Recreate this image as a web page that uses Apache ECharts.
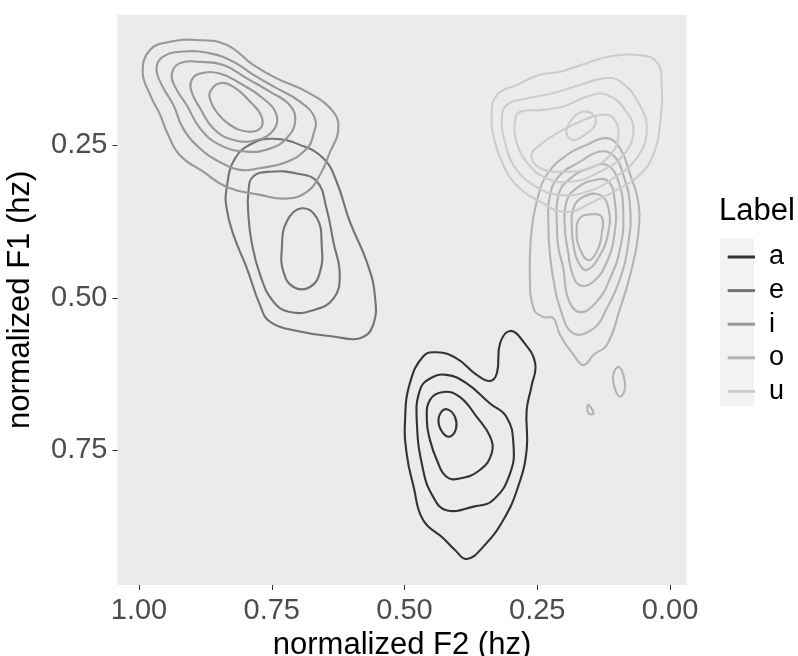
<!DOCTYPE html>
<html>
<head>
<meta charset="utf-8">
<script src="https://cdn.jsdelivr.net/npm/echarts@6/dist/echarts.min.js"></script>
<style>
html,body{margin:0;padding:0;background:#fff;}
#chart{width:798px;height:656px;}
</style>
</head>
<body>
<div id="chart"></div>
<script>
// ---- data (normalized F2, normalized F1) ----
const vowelLabels = ['a', 'e', 'i', 'o', 'u'];
const vowelColors = ['#333333', '#737373', '#989898', '#B4B4B4', '#CCCCCC'];
const xTicks = [0, 0.25, 0.5, 0.75, 1];
const yTicks = [0.25, 0.5, 0.75];

// vowel "a" density contours
const a1 = [[0.499,0.700],[0.490,0.640],[0.465,0.596],[0.439,0.589],[0.402,0.599],[0.364,0.626],[0.339,0.636],[0.326,0.623],[0.320,0.574],[0.301,0.554],[0.276,0.572],[0.254,0.607],[0.261,0.645],[0.270,0.684],[0.270,0.749],[0.286,0.809],[0.314,0.864],[0.352,0.908],[0.383,0.928],[0.405,0.913],[0.427,0.894],[0.465,0.864],[0.483,0.809],[0.496,0.755]];
const a2 = [[0.477,0.700],[0.471,0.651],[0.452,0.632],[0.421,0.626],[0.383,0.640],[0.339,0.673],[0.308,0.695],[0.295,0.738],[0.301,0.787],[0.333,0.831],[0.370,0.842],[0.421,0.848],[0.446,0.826],[0.465,0.782]];
const a3 = [[0.458,0.700],[0.452,0.667],[0.427,0.654],[0.396,0.662],[0.364,0.695],[0.339,0.727],[0.336,0.755],[0.358,0.782],[0.396,0.796],[0.421,0.793],[0.439,0.766],[0.452,0.733]];
const a4 = [[0.436,0.703],[0.430,0.686],[0.418,0.683],[0.405,0.695],[0.403,0.714],[0.414,0.727],[0.427,0.722]];

// vowel "e" density contours
const e1 = [[0.835,0.320],[0.819,0.271],[0.785,0.246],[0.747,0.239],[0.697,0.249],[0.653,0.271],[0.628,0.309],[0.603,0.375],[0.571,0.441],[0.556,0.495],[0.559,0.544],[0.584,0.566],[0.634,0.563],[0.697,0.555],[0.753,0.539],[0.772,0.512],[0.797,0.451],[0.822,0.397],[0.835,0.353]];
const e2 = [[0.794,0.326],[0.785,0.301],[0.753,0.293],[0.703,0.296],[0.665,0.309],[0.647,0.353],[0.634,0.408],[0.622,0.462],[0.634,0.501],[0.672,0.520],[0.716,0.523],[0.747,0.506],[0.772,0.462],[0.788,0.408],[0.794,0.364]];
const e3 = [[0.731,0.419],[0.722,0.375],[0.694,0.353],[0.665,0.369],[0.656,0.413],[0.659,0.457],[0.678,0.482],[0.709,0.482],[0.728,0.457]];

// vowel "i" density contours
const i1 = [[0.993,0.129],[0.979,0.093],[0.942,0.080],[0.891,0.077],[0.835,0.085],[0.785,0.118],[0.741,0.140],[0.684,0.162],[0.634,0.195],[0.625,0.227],[0.640,0.260],[0.659,0.298],[0.684,0.326],[0.722,0.337],[0.772,0.331],[0.835,0.318],[0.879,0.293],[0.923,0.266],[0.948,0.227],[0.960,0.200],[0.979,0.167]];
const i2 = [[0.967,0.123],[0.954,0.104],[0.917,0.096],[0.866,0.099],[0.822,0.113],[0.785,0.134],[0.741,0.156],[0.697,0.178],[0.669,0.205],[0.672,0.233],[0.684,0.255],[0.722,0.277],[0.772,0.287],[0.810,0.290],[0.848,0.277],[0.885,0.255],[0.917,0.222],[0.935,0.184],[0.957,0.151]];
const i3 = [[0.938,0.132],[0.923,0.115],[0.885,0.113],[0.841,0.118],[0.797,0.140],[0.753,0.162],[0.716,0.184],[0.706,0.211],[0.722,0.238],[0.753,0.255],[0.797,0.260],[0.848,0.249],[0.885,0.222],[0.910,0.184],[0.932,0.154]];
const i4 = [[0.901,0.143],[0.885,0.132],[0.848,0.132],[0.810,0.148],[0.766,0.173],[0.741,0.200],[0.747,0.225],[0.778,0.241],[0.822,0.241],[0.860,0.222],[0.885,0.189],[0.901,0.162]];
const i5 = [[0.866,0.162],[0.848,0.148],[0.822,0.154],[0.791,0.178],[0.769,0.203],[0.772,0.222],[0.797,0.227],[0.829,0.216],[0.854,0.195],[0.866,0.175]];

// vowel "o" density contours
const o1 = [[0.257,0.517],[0.264,0.462],[0.261,0.391],[0.251,0.342],[0.232,0.298],[0.195,0.266],[0.157,0.249],[0.119,0.238],[0.094,0.255],[0.075,0.298],[0.060,0.342],[0.060,0.397],[0.075,0.462],[0.094,0.517],[0.119,0.577],[0.144,0.593],[0.163,0.610],[0.182,0.593],[0.207,0.561],[0.220,0.533],[0.239,0.531]];
const o2 = [[0.229,0.386],[0.226,0.331],[0.207,0.298],[0.170,0.277],[0.132,0.260],[0.107,0.266],[0.088,0.298],[0.075,0.353],[0.079,0.413],[0.094,0.468],[0.119,0.517],[0.144,0.550],[0.182,0.558],[0.207,0.517],[0.220,0.468],[0.226,0.430]];
const o3 = [[0.213,0.386],[0.210,0.331],[0.188,0.304],[0.151,0.287],[0.119,0.282],[0.097,0.309],[0.088,0.364],[0.094,0.419],[0.113,0.468],[0.138,0.506],[0.170,0.523],[0.192,0.501],[0.201,0.451],[0.210,0.419]];
const o4 = [[0.198,0.386],[0.195,0.342],[0.176,0.320],[0.144,0.307],[0.116,0.309],[0.104,0.342],[0.104,0.391],[0.119,0.441],[0.144,0.473],[0.170,0.479],[0.185,0.457],[0.192,0.424]];
const o5 = [[0.185,0.386],[0.182,0.353],[0.163,0.334],[0.132,0.331],[0.116,0.353],[0.116,0.391],[0.132,0.430],[0.157,0.454],[0.173,0.441],[0.182,0.413]];
const o6 = [[0.176,0.391],[0.170,0.369],[0.151,0.363],[0.129,0.367],[0.129,0.397],[0.138,0.424],[0.154,0.438],[0.170,0.419]];
const o7 = [[0.107,0.626],[0.097,0.613],[0.088,0.626],[0.085,0.648],[0.094,0.662],[0.104,0.648]];
const o8 = [[0.154,0.675],[0.144,0.689],[0.154,0.689]];

// vowel "u" density contours
const u1 = [[0.336,0.200],[0.326,0.167],[0.289,0.151],[0.245,0.134],[0.207,0.129],[0.157,0.115],[0.113,0.104],[0.057,0.102],[0.025,0.113],[0.016,0.145],[0.019,0.216],[0.032,0.266],[0.057,0.298],[0.094,0.320],[0.144,0.342],[0.195,0.359],[0.245,0.342],[0.289,0.315],[0.314,0.282],[0.330,0.244]];
const u2 = [[0.317,0.211],[0.308,0.184],[0.270,0.173],[0.220,0.164],[0.170,0.151],[0.126,0.140],[0.094,0.145],[0.057,0.184],[0.044,0.227],[0.063,0.271],[0.107,0.304],[0.157,0.326],[0.207,0.331],[0.257,0.315],[0.295,0.282],[0.311,0.244]];
const u3 = [[0.292,0.211],[0.283,0.195],[0.245,0.192],[0.201,0.186],[0.157,0.170],[0.119,0.167],[0.082,0.195],[0.069,0.227],[0.088,0.266],[0.132,0.293],[0.182,0.309],[0.232,0.304],[0.270,0.277],[0.289,0.244]];
const u4 = [[0.261,0.266],[0.245,0.249],[0.207,0.227],[0.170,0.211],[0.132,0.200],[0.107,0.205],[0.097,0.233],[0.113,0.266],[0.151,0.287],[0.201,0.293],[0.245,0.287]];
const u5 = [[0.195,0.230],[0.188,0.211],[0.166,0.195],[0.144,0.200],[0.141,0.216],[0.157,0.230],[0.182,0.241]];

const contoursByVowel = {
  a: [a1, a2, a3, a4],
  e: [e1, e2, e3],
  i: [i1, i2, i3, i4, i5],
  o: [o1, o2, o3, o4, o5, o6, o7, o8],
  u: [u1, u2, u3, u4, u5]
};

// ---- chart ----
const FONT = "'Liberation Sans', Arial, Helvetica, sans-serif";
const chart = echarts.init(document.getElementById('chart'), null, {renderer: 'canvas'});

const series = vowelLabels.map(function (v, k) {
  const contours = contoursByVowel[v];
  return {
    type: 'custom',
    name: v,
    coordinateSystem: 'cartesian2d',
    itemStyle: {color: vowelColors[k]},
    data: contours.map(function (c) { return [c[0][0], c[0][1]]; }),
    encode: {x: 0, y: 1},
    silent: true,
    renderItem: function (params, api) {
      const c = contours[params.dataIndex];
      const pts = c.map(function (p) { return api.coord(p); });
      return {
        type: 'polygon',
        shape: {points: pts, smooth: 0.45},
        style: {fill: null, stroke: vowelColors[k], lineWidth: 2.1}
      };
    }
  };
});

const option = {
  backgroundColor: '#ffffff',
  animation: false,
  grid: {
    left: 117.5, right: 111.5, top: 14.7, bottom: 71,
    show: true, backgroundColor: '#EBEBEB', borderWidth: 0,
    containLabel: false,
    outerBoundsMode: 'none'
  },
  xAxis: {
    type: 'value',
    inverse: true,
    min: -0.031, max: 1.0405,
    name: 'normalized F2 (hz)',
    nameLocation: 'middle',
    nameGap: 39,
    nameTextStyle: {fontFamily: FONT, fontSize: 31, color: '#000'},
    axisLine: {show: false, onZero: false},
    splitLine: {show: false},
    axisTick: {show: true, length: 5, customValues: xTicks, lineStyle: {color: '#333333', width: 1}},
    axisLabel: {
      customValues: xTicks, margin: 11,
      fontFamily: FONT, fontSize: 29, color: '#4D4D4D',
      formatter: function (v) { return v.toFixed(2); }
    }
  },
  yAxis: {
    type: 'value',
    inverse: true,
    min: 0.0356, max: 0.9705,
    name: 'normalized F1 (hz)',
    nameLocation: 'middle',
    nameGap: 82,
    nameRotate: 90,
    nameTextStyle: {fontFamily: FONT, fontSize: 31, color: '#000'},
    axisLine: {show: false, onZero: false},
    splitLine: {show: false},
    axisTick: {show: true, length: 5, customValues: yTicks, lineStyle: {color: '#333333', width: 1}},
    axisLabel: {
      customValues: yTicks, margin: 10,
      fontFamily: FONT, fontSize: 29, color: '#4D4D4D',
      formatter: function (v) { return v.toFixed(2); }
    }
  },
  legend: {
    orient: 'vertical',
    left: 722.7,
    top: 235.2,
    itemWidth: 27.3,
    itemHeight: 3,
    itemGap: 0,
    icon: 'rect',
    selectedMode: false,
    data: vowelLabels,
    textStyle: {fontFamily: FONT, fontSize: 27, color: '#000', lineHeight: 33.6, padding: [0, 0, 0, 9]}
  },
  graphic: [
    {type: 'rect', left: 720, top: 238.5, z: -1, shape: {width: 34, height: 168}, style: {fill: '#F2F2F2'}},
    {type: 'text', left: 719, top: 196, style: {text: 'Label', font: '31px ' + FONT, fill: '#000'}}
  ],
  series: series
};
chart.setOption(option);
</script>
</body>
</html>
